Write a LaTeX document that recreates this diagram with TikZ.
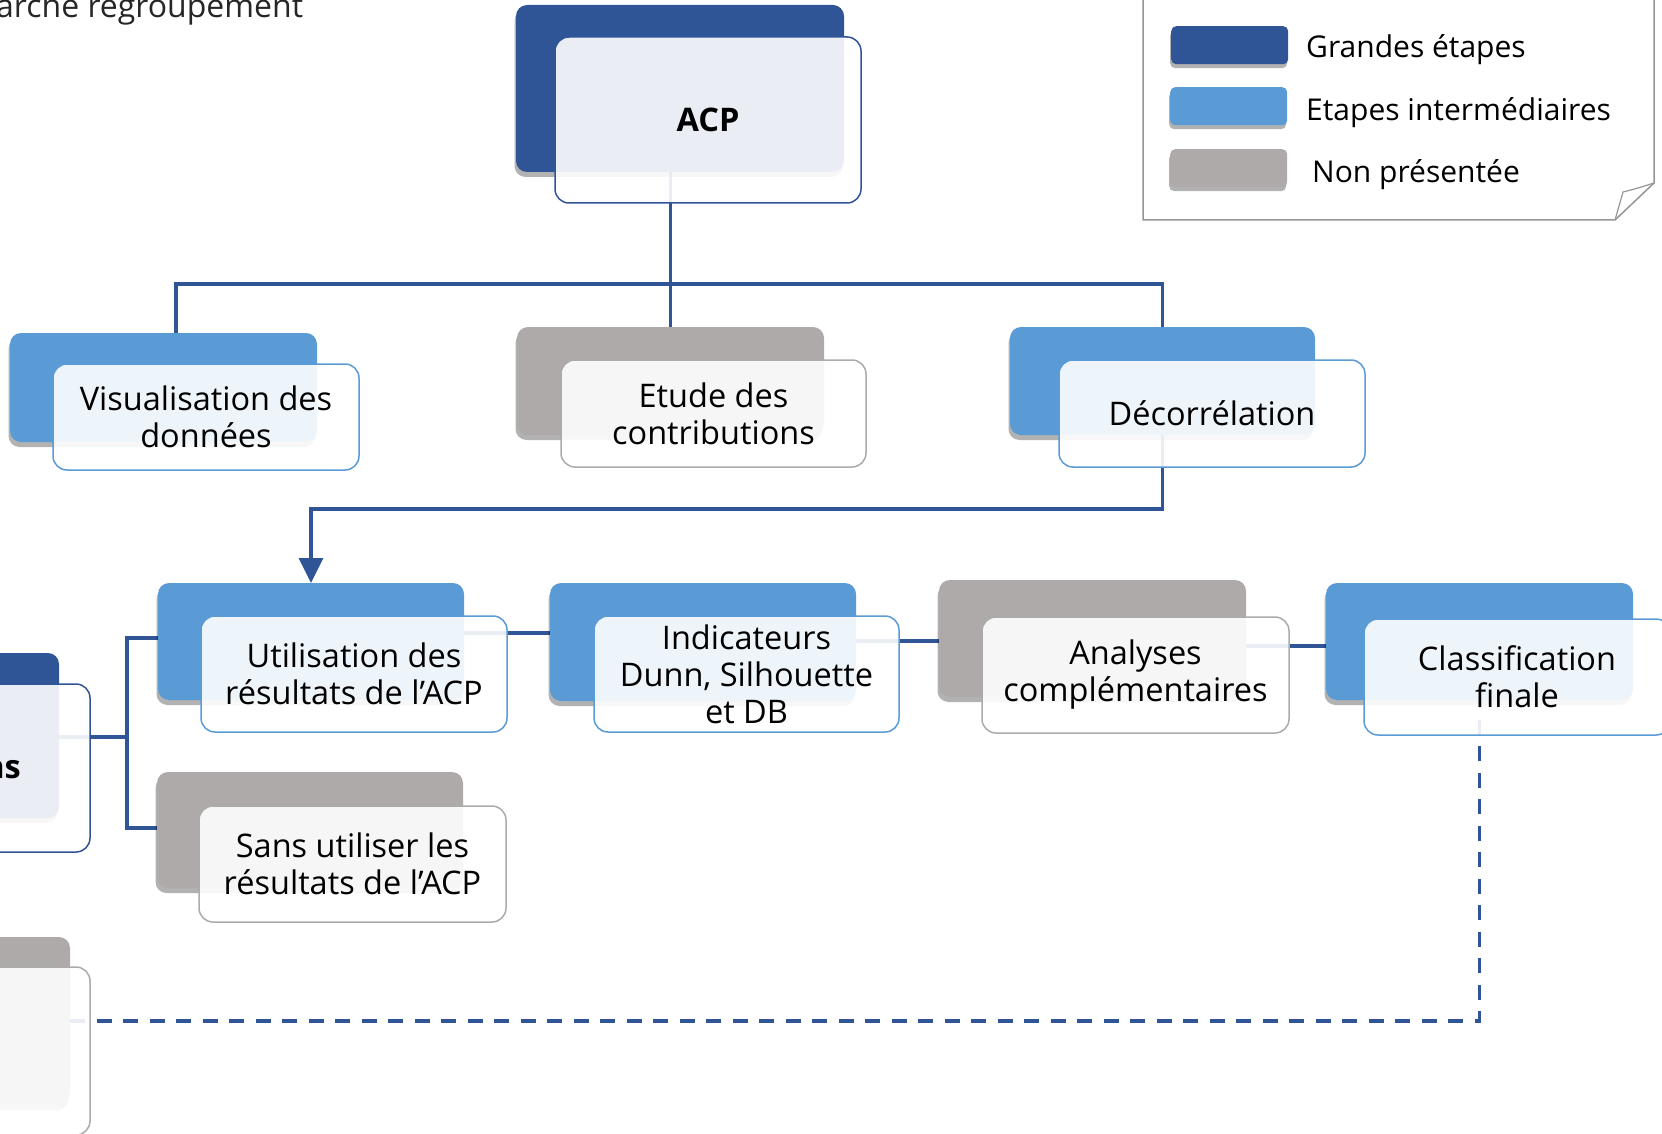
\documentclass[tikz,border=0pt]{standalone}
\usepackage{fontspec}
\setmainfont{Open Sans}
\usetikzlibrary{arrows.meta,shadows,calc}
\definecolor{dblue}{HTML}{2F5597}
\definecolor{lblue}{HTML}{5B9BD5}
\definecolor{greyc}{HTML}{AEAAAA}
\definecolor{greyb}{HTML}{ABABAB}
\definecolor{legline}{HTML}{969696}
\pgfdeclarelayer{bg}
\pgfsetlayers{bg,main}
\newcommand{\boxfont}{\fontsize{32.5}{37}\selectfont}
\newcommand{\legfont}{\fontsize{30}{36}\selectfont}
\tikzset{
  bk/.style={rounded corners=11pt, inner sep=0pt, outer sep=0pt, anchor=north west, draw=none,
    drop shadow={shadow xshift=-1.5pt, shadow yshift=-5pt, opacity=0.3, fill=black}},
  bkD/.style={bk, fill=dblue},
  bkL/.style={bk, fill=lblue},
  bkG/.style={bk, fill=greyc},
  fr/.style={rounded corners=14pt, inner sep=2pt, outer sep=0pt, anchor=north west, fill=white,
    fill opacity=0.9, text opacity=1, line width=1.5pt, align=center, font=\boxfont},
  frD/.style={fr, draw=dblue},
  frL/.style={fr, draw=lblue},
  frG/.style={fr, draw=greyb},
  conn/.style={draw=dblue, line width=3.5pt},
  dconn/.style={draw=dblue, line width=3.5pt, dash pattern=on 15pt off 11.5pt},
  swatch/.style={rounded corners=5pt, inner sep=0pt, anchor=north west, minimum width=117pt, minimum height=38pt,
    drop shadow={shadow xshift=-1pt, shadow yshift=-4pt, opacity=0.3, fill=black}},
  legtext/.style={anchor=west, font=\legfont, inner sep=0pt}
}
\begin{document}
\begin{tikzpicture}[x=1pt,y=-1pt]
\useasboundingbox (0,0) rectangle (1662,1134);
\clip (0,0) rectangle (1662,1134);

% title fragment
\node[anchor=base west, inner sep=0pt, font=\fontsize{32}{38}\selectfont, text=black!85] (title) at (-4,18) {arche regroupement};

% legend
\draw[legline, line width=1.5pt, fill=white] (1143,-5) -- (1143,220) -- (1615,220) -- (1654,183) -- (1654,-5);
\draw[legline, line width=1.2pt] (1615,220) -- (1623,192) .. controls (1635,189) .. (1654,183);
\node[swatch, fill=dblue] (lg1) at (1171,26) {};
\node[swatch, fill=lblue] (lg2) at (1170,87) {};
\node[swatch, fill=greyc] (lg3) at (1170,149) {};
\node[legtext] (lt1) at (1306,50) {Grandes étapes};
\node[legtext] (lt2) at (1306,113) {Etapes intermédiaires};
\node[legtext] (lt3) at (1312,175) {Non présentée};

% ACP
\node[bkD, minimum width=328pt, minimum height=167pt] (acpb) at (516,5) {};
\node[frD, minimum width=306pt, minimum height=166pt, font=\boxfont\bfseries] (acpf) at (555,37) {ACP};

% row 2
\node[bkL, minimum width=307pt, minimum height=109pt] (visb) at (10,333) {};
\node[frL, minimum width=306pt, minimum height=106pt] (visf) at (53,364) {Visualisation des\\données};
\node[bkG, minimum width=307pt, minimum height=108pt] (etb) at (517,327) {};
\node[frG, minimum width=305pt, minimum height=107pt] (etf) at (561,360) {Etude des\\contributions};
\node[bkL, minimum width=305pt, minimum height=108pt] (decb) at (1010,327) {};
\node[frL, minimum width=306pt, minimum height=107pt] (decf) at (1059,360) {Décorrélation};

% row 3
\node[bkL, minimum width=306pt, minimum height=117pt] (utilb) at (158,583) {};
\node[frL, minimum width=306pt, minimum height=116pt] (utilf) at (201,616) {Utilisation des\\résultats de l’ACP};
\node[bkL, minimum width=306pt, minimum height=118pt] (indb) at (550,583) {};
\node[frL, minimum width=305pt, minimum height=116pt] (indf) at (594,616) {Indicateurs\\Dunn, Silhouette\\et DB};
\node[bkG, minimum width=307pt, minimum height=117pt] (analb) at (939,580) {};
\node[frG, minimum width=307pt, minimum height=116pt] (analf) at (982,617) {Analyses\\complémentaires};
\node[bkL, minimum width=307pt, minimum height=117pt] (clb) at (1326,583) {};
\node[frL, minimum width=306pt, minimum height=116pt] (clf) at (1364,619) {Classification\\finale};

% row 4
\node[bkG, minimum width=306pt, minimum height=116pt] (sansb) at (157,772) {};
\node[frG, minimum width=307pt, minimum height=116pt] (sansf) at (199,806) {Sans utiliser les\\résultats de l’ACP};

% partial left boxes
\node[bkD, minimum width=307pt, minimum height=165pt] (lpb) at (-248,653) {};
\node[frD, minimum width=306pt, minimum height=168pt] (lpf) at (-216,684) {};
\node[anchor=base east, inner sep=0pt, font=\boxfont\bfseries] (lpt) at (21,778) {ns};
\node[bkG, minimum width=307pt, minimum height=168pt] (lgb) at (-237,937) {};
\node[frG, minimum width=306pt, minimum height=168pt] (lgf) at (-216,967) {};

% connectors
\begin{pgfonlayer}{bg}
\draw[conn] (acpb.south -| etb.north) -- (etb.north);
\draw[conn] ([xshift=12.5pt]visb.north) -- ++(0,-49) -| (decb.north);
\draw[conn, -{Triangle[length=25pt, width=24pt]}] (decb.south) -- ++(0,74) -| (utilb.north);
\draw[conn] ([yshift=8.5pt]utilb.east) -- ([yshift=8.5pt]utilb.east -| indb.west);
\draw[conn] ([yshift=1pt]indb.east) -- ([yshift=1pt]indb.east -| analb.west);
\draw[conn] ([yshift=-7.5pt]analb.east) -- ([yshift=-7.5pt]analb.east -| clb.west);
\draw[conn] ([yshift=-1.5pt]lpb.east) -- ++(68,0);
\draw[conn] ([yshift=3.5pt]utilb.west) -- ++(-31,0) |- ([yshift=2pt]sansb.west);
\draw[dconn] (lgb.east) -| (clb.south);
\end{pgfonlayer}
\end{tikzpicture}
\end{document}
